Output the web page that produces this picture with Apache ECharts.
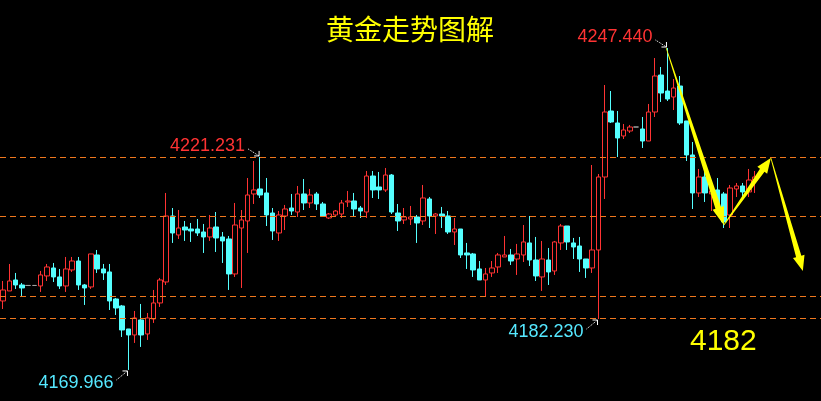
<!DOCTYPE html>
<html><head><meta charset="utf-8">
<script src="https://cdn.jsdelivr.net/npm/echarts@6/dist/echarts.min.js"></script>
<style>html,body{margin:0;padding:0;background:#000;overflow:hidden;}#c{width:821px;height:401px;}</style>
</head><body><div id="c"></div>
<script>
// ---- data ----
const opens = [
4186.57,4188.98,4191.62,4190.42,4190.3,4190.3,4190.18,4192.59,4194.51,4192.35,
4190.18,4194.03,4196.19,4190.42,4189.94,4197.64,4194.27,4193.55,4187.05,4185.37,
4179.83,4178.39,4182.00,4178.63,4182.24,4186.09,4191.14,4207.02,4202.45,4204.37,
4203.89,4203.89,4203.17,4201.97,4204.37,4201.97,4201.49,4193.07,4204.13,4205.82,
4212.32,4213.52,4212.56,4207.74,4202.93,4207.02,4208.94,4207.98,4212.32,4210.15,
4212.32,4209.91,4206.54,4207.26,4207.50,4210.39,4210.63,4208.94,4207.98,4216.64,
4214.00,4213.28,4216.88,4207.74,4206.06,4206.30,4206.78,4205.82,4211.11,4207.02,
4207.50,4207.02,4203.17,4203.89,4198.12,4197.88,4194.27,4191.62,4193.31,4194.75,
4197.16,4197.64,4196.67,4197.64,4200.53,4196.43,4192.35,4196.43,4193.79,4200.53,
4204.61,4200.53,4199.80,4196.67,4194.51,4198.84,4216.40,4232.28,4229.40,4226.27,
4227.47,4228.43,4227.95,4225.06,4232.04,4240.94,4237.09,4235.65,4238.30,4229.88,
4221.70,4212.56,4216.40,4212.32,4213.28,4212.32,4207.26,4213.52,4214.24,4212.80,
4215.68];
const closes = [
4189.22,4191.38,4190.42,4189.70,4190.3,4190.3,4192.83,4194.75,4192.35,4190.18,
4194.27,4196.19,4190.42,4189.70,4197.88,4194.27,4193.31,4186.57,4184.88,4179.59,
4178.39,4182.48,4178.39,4182.48,4186.09,4191.62,4207.02,4202.93,4204.13,4203.65,
4203.41,4202.93,4201.97,4204.13,4201.73,4201.01,4193.07,4204.85,4206.06,4212.07,
4213.28,4212.07,4207.26,4203.41,4207.26,4208.70,4208.22,4212.32,4210.15,4212.07,
4209.91,4207.02,4207.50,4208.22,4210.15,4210.63,4208.70,4208.22,4216.64,4213.28,
4213.28,4216.88,4207.98,4205.82,4206.78,4206.78,4205.34,4211.35,4207.02,4207.50,
4207.02,4203.17,4203.89,4197.64,4197.64,4194.03,4191.62,4193.07,4194.51,4197.64,
4197.64,4196.19,4197.88,4200.77,4196.43,4192.59,4196.67,4193.55,4200.77,4204.61,
4200.77,4199.56,4196.67,4194.51,4198.84,4216.40,4232.04,4229.64,4225.79,4227.71,
4228.43,4228.43,4225.06,4232.04,4240.70,4236.61,4235.17,4237.81,4229.40,4221.70,
4212.56,4216.40,4212.56,4213.04,4209.67,4205.58,4213.76,4214.24,4212.80,4215.68,
4216.40];
const lows = [
4184.64,4188.98,4189.46,4187.77,4190.3,4190.3,4188.74,4191.38,4191.14,4189.46,
4188.74,4193.55,4189.22,4185.61,4189.46,4193.31,4191.62,4184.40,4183.20,4177.91,
4169.97,4176.47,4175.51,4177.19,4181.28,4185.13,4190.42,4200.53,4201.49,4201.01,
4200.77,4202.21,4198.12,4201.01,4198.36,4195.71,4189.22,4192.35,4189.70,4198.12,
4209.91,4211.35,4204.61,4201.25,4201.01,4203.65,4207.26,4206.78,4208.46,4208.94,
4208.46,4206.78,4206.30,4207.02,4206.54,4209.19,4207.02,4206.54,4206.54,4211.35,
4211.11,4212.80,4207.50,4203.41,4205.10,4204.85,4200.53,4204.85,4204.13,4202.69,
4204.13,4202.69,4200.04,4196.91,4194.27,4192.35,4191.62,4187.53,4192.35,4193.31,
4197.16,4195.23,4192.83,4195.95,4194.99,4191.38,4188.98,4190.42,4192.83,4198.84,
4198.84,4196.67,4193.55,4192.11,4193.31,4182.23,4211.11,4229.40,4221.21,4225.55,
4226.99,4228.43,4223.38,4225.06,4230.84,4234.45,4234.69,4232.52,4228.92,4220.25,
4208.70,4211.59,4210.39,4208.22,4207.98,4204.13,4204.13,4211.59,4211.59,4211.59,
4212.56];
const highs = [
4191.38,4195.47,4193.31,4190.90,4190.3,4190.3,4193.79,4195.47,4195.71,4194.27,
4197.16,4197.16,4197.16,4190.66,4197.88,4198.84,4195.47,4195.47,4187.29,4185.61,
4179.83,4184.16,4185.85,4183.68,4189.22,4192.11,4212.56,4208.94,4208.46,4205.82,
4205.34,4206.30,4205.10,4207.26,4207.98,4203.17,4202.21,4210.15,4208.46,4216.16,
4220.25,4221.23,4216.16,4208.94,4208.22,4209.67,4212.32,4214.24,4215.92,4213.52,
4212.80,4210.39,4207.74,4208.46,4210.87,4213.04,4212.56,4209.43,4217.85,4217.85,
4217.61,4218.57,4217.12,4209.91,4208.94,4209.43,4207.26,4214.48,4211.59,4207.74,
4209.19,4208.22,4206.54,4203.89,4200.53,4198.12,4196.19,4194.51,4196.19,4198.12,
4202.21,4199.08,4200.29,4204.85,4207.02,4201.97,4201.01,4199.32,4201.01,4205.10,
4204.61,4201.73,4201.97,4196.67,4219.29,4217.12,4238.54,4237.09,4232.28,4229.16,
4228.92,4228.43,4230.84,4233.97,4245.03,4242.87,4247.44,4239.98,4240.70,4229.88,
4224.82,4218.33,4218.09,4214.00,4216.16,4212.80,4214.48,4214.96,4214.96,4218.33,
4217.85];
const levels = [4221.21, 4207.02, 4187.77, 4182.47];
const emptySlots = 10;
const categories = [];
for (let i = 0; i < opens.length + emptySlots; i++) categories.push(String(i + 1));
const titleText = '黄金走势图解';
const targetText = '4182';
const extremeLabels = [
  {text: '4247.440', idx: 106, price: 4247.44, color: '#ff3333', side: 'up'},
  {text: '4221.231', idx: 41, price: 4221.23, color: '#ff3333', side: 'up'},
  {text: '4182.230', idx: 95, price: 4182.23, color: '#55e8ff', side: 'down'},
  {text: '4169.966', idx: 20, price: 4169.97, color: '#55e8ff', side: 'down'}
];
const forecastPath = [[105.8, 4247.44], [115.0, 4204.85], [122.5, 4220.97], [127.6, 4193.8]];

const candleData = opens.map((o, i) => [o, closes[i], lows[i], highs[i]]);

const chart = echarts.init(document.getElementById('c'), null, {renderer: 'canvas'});
chart.setOption({
  backgroundColor: '#000',
  animation: false,
  grid: {left: -1, top: 0, width: 822, height: 401},
  xAxis: {type: 'category', data: categories, boundaryGap: true, show: false},
  yAxis: {type: 'value', min: 4162.50, max: 4258.99, show: false, splitLine: {show: false}},
  series: [{
    type: 'candlestick', data: candleData, barWidth: 5,
    itemStyle: {color: '#000', color0: '#55ffff', borderColor: '#ff3333', borderColor0: '#55ffff', borderColorDoji: '#a0a0a0', borderWidth: 1},
    markLine: {
      silent: true, animation: false, symbol: ['none', 'none'], label: {show: false},
      lineStyle: {color: '#f0781e', type: [6, 4], width: 1, opacity: 1},
      emphasis: {disabled: true},
      data: levels.map(v => ({yAxis: v}))
    }
  }]
});

function toPx(i, v) {
  const i0 = Math.floor(i), f = i - i0;
  const a = chart.convertToPixel({gridIndex: 0}, [i0, v]);
  const b = chart.convertToPixel({gridIndex: 0}, [i0 + 1, v]);
  return [a[0] + f * (b[0] - a[0]), a[1]];
}
function wedge(p0, p1, w0, w1, hl, hw) {
  const dx = p1[0] - p0[0], dy = p1[1] - p0[1], L = Math.hypot(dx, dy);
  const ux = dx / L, uy = dy / L, nx = -uy, ny = ux;
  const bx = p1[0] - ux * hl, by = p1[1] - uy * hl;
  return [[p0[0] + nx * w0 / 2, p0[1] + ny * w0 / 2], [bx + nx * w1 / 2, by + ny * w1 / 2], [bx + nx * hw / 2, by + ny * hw / 2],
    [p1[0], p1[1]], [bx - nx * hw / 2, by - ny * hw / 2], [bx - nx * w1 / 2, by - ny * w1 / 2], [p0[0] - nx * w0 / 2, p0[1] - ny * w0 / 2]];
}

const g = [];
g.push({type: 'text', x: 410, y: 29, z: 100, style: {text: titleText, fill: '#ffff00', font: '28px "Noto Sans CJK SC"', align: 'center', verticalAlign: 'middle'}});
g.push({type: 'text', x: 690, y: 342, z: 100, style: {text: targetText, fill: '#ffff00', font: '30px "Liberation Sans", Arial', align: 'left', verticalAlign: 'middle'}});

extremeLabels.forEach(l => {
  const p = toPx(l.idx, l.price);
  const up = l.side === 'up';
  const tx = p[0] - 15, ty = up ? p[1] - 11 : p[1] + 13;
  g.push({type: 'text', x: tx, y: ty, z: 100, style: {text: l.text, fill: l.color, font: '18px "Liberation Sans", Arial', align: 'right', verticalAlign: 'middle'}});
  const tip = [p[0] - 1, up ? p[1] - 1 : p[1] + 1];
  const tail = [p[0] - 12, up ? p[1] - 8 : p[1] + 10];
  g.push({type: 'polyline', z: 100, shape: {points: [tail, tip]}, style: {stroke: '#fff', lineWidth: 1, lineDash: [1, 1], fill: null}});
  const sy = up ? 1 : -1;
  g.push({type: 'polyline', z: 100, shape: {points: [[tip[0] - 5, tip[1]], tip, [tip[0], tip[1] - 5 * sy]]}, style: {stroke: '#fff', lineWidth: 1, fill: null}});
});

const pts = forecastPath.map(q => toPx(q[0], q[1]));
const arrowSpecs = [[0.8, 6, 18, 12], [0.8, 5.5, 15, 12], [0.8, 5.5, 15, 12]];
for (let k = 0; k < pts.length - 1; k++) {
  const s = arrowSpecs[k];
  g.push({type: 'polygon', z: 100, shape: {points: wedge(pts[k], pts[k + 1], s[0], s[1], s[2], s[3])}, style: {fill: '#ffff00'}});
}
chart.setOption({graphic: g});
</script>
</body></html>
